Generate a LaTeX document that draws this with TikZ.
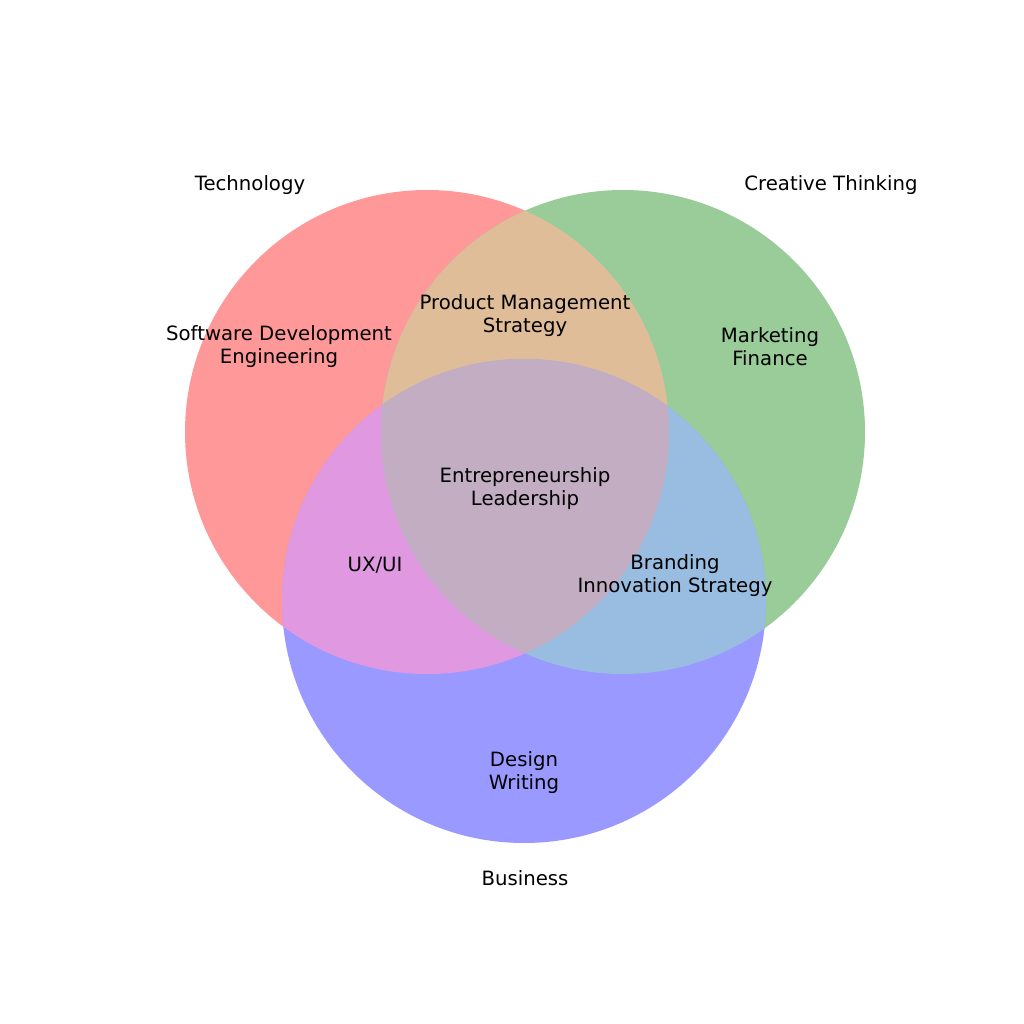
\documentclass[tikz,border=0pt]{standalone}
\usepackage{fontspec}
\setmainfont{DejaVu Sans}
\definecolor{cR}{RGB}{255,153,153}
\definecolor{cG}{RGB}{153,204,153}
\definecolor{cB}{RGB}{153,153,255}
\definecolor{cRG}{RGB}{224,189,153}
\definecolor{cRB}{RGB}{224,153,224}
\definecolor{cGB}{RGB}{153,189,224}
\definecolor{cRGB}{RGB}{194,173,194}
\tikzset{
  lbl/.style={inner sep=0pt, align=center, font=\fontsize{19.7}{23}\selectfont, text=black},
}
\begin{document}
\begin{tikzpicture}[x=1pt,y=-1pt]
\fill[white] (0,0) rectangle (1024,1024);
\useasboundingbox (0,0) rectangle (1024,1024);
\coordinate (cTech) at (427,432);
\coordinate (cCre) at (623,432);
\coordinate (cBus) at (524,601);
\def\rad{242}
% single sets
\fill[cR] (cTech) circle[radius=\rad];
\fill[cG] (cCre) circle[radius=\rad];
\fill[cB] (cBus) circle[radius=\rad];
% pairwise
\begin{scope}
  \clip (cTech) circle[radius=\rad];
  \fill[cRG] (cCre) circle[radius=\rad];
  \fill[cRB] (cBus) circle[radius=\rad];
\end{scope}
\begin{scope}
  \clip (cCre) circle[radius=\rad];
  \fill[cGB] (cBus) circle[radius=\rad];
\end{scope}
\begin{scope}
  \clip (cTech) circle[radius=\rad];
  \clip (cCre) circle[radius=\rad];
  \fill[cRGB] (cBus) circle[radius=\rad];
\end{scope}
% set labels
\node[lbl] (tech) at (250,185) {Technology};
\node[lbl] (cre) at (831,185) {Creative Thinking};
\node[lbl] (bus) at (525,878) {Business};
% region labels
\node[lbl] (sw) at (279,347) {Software Development\\Engineering};
\node[lbl] (pm) at (525,316) {Product Management\\Strategy};
\node[lbl] (mk) at (770,347) {Marketing\\Finance};
\node[lbl] (en) at (525,489) {Entrepreneurship\\Leadership};
\node[lbl] (ux) at (375,565) {UX/UI};
\node[lbl] (br) at (675,576) {Branding\\Innovation Strategy};
\node[lbl] (de) at (524,773) {Design\\Writing};
\end{tikzpicture}
\end{document}
